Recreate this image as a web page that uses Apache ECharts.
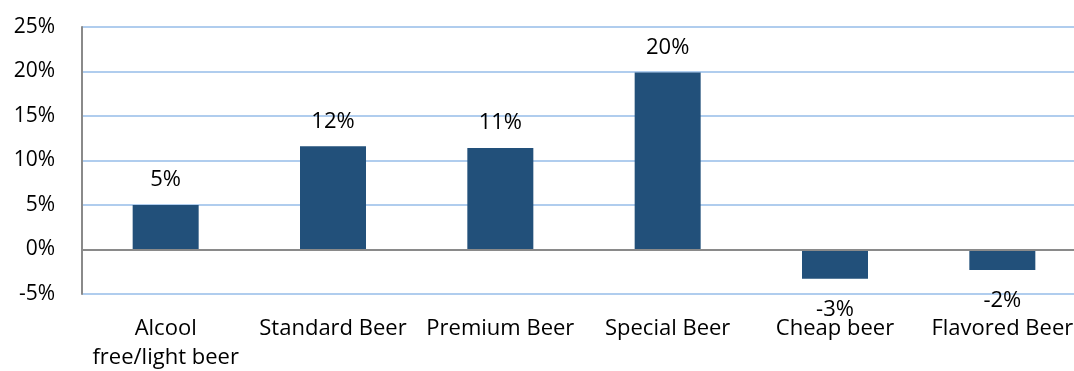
<!DOCTYPE html>
<html><head><meta charset="utf-8">
<script src="https://cdn.jsdelivr.net/npm/echarts@6/dist/echarts.min.js"></script>
<style>html,body{margin:0;padding:0;background:#fff}#c{width:1074px;height:371px}</style>
</head><body><div id="c"></div>
<script>
const categories = ['Alcool\nfree/light beer', 'Standard Beer', 'Premium Beer', 'Special Beer', 'Cheap beer', 'Flavored Beer'];
const values = [5.0, 11.6, 11.4, 19.9, -3.3, -2.3];
const valueLabels = ['5%', '12%', '11%', '20%', '-3%', '-2%'];
const yTicks = [-5, 0, 5, 10, 15, 20, 25];

const FONT = 'Open Sans';
const chart = echarts.init(document.getElementById('c'));
chart.setOption({
  animation: false,
  grid: { left: 82, top: 27, width: 1004, height: 267, containLabel: false, outerBoundsMode: 'none' },
  xAxis: {
    type: 'category', data: categories,
    axisLine: { show: false, onZero: false },
    axisTick: { show: false },
    axisLabel: { color: '#000', fontFamily: FONT, fontSize: 22, margin: 20, lineHeight: 29, interval: 0 }
  },
  yAxis: {
    type: 'value', min: yTicks[0], max: yTicks[yTicks.length - 1], interval: 5,
    axisLine: { show: true, lineStyle: { color: '#8a8a8a', width: 2 } },
    axisTick: { show: false },
    splitLine: { lineStyle: { color: '#b0cdee', width: 2 } },
    axisLabel: { color: '#000', fontFamily: FONT, fontSize: 21, margin: 27, formatter: v => v + '%' }
  },
  series: [{
    type: 'bar', barWidth: 66,
    itemStyle: { color: '#22507a' },
    data: values.map((v, i) => ({
      value: v,
      label: {
        show: true, position: v >= 0 ? 'top' : 'bottom', distance: v >= 0 ? 14 : 20,
        formatter: valueLabels[i], color: '#000', fontFamily: FONT, fontSize: 22
      }
    })),
    markLine: {
      silent: true, symbol: 'none', label: { show: false },
      lineStyle: { color: '#8a8a8a', width: 2, type: 'solid' },
      data: [{ yAxis: 0 }]
    }
  }]
});
</script></body></html>
